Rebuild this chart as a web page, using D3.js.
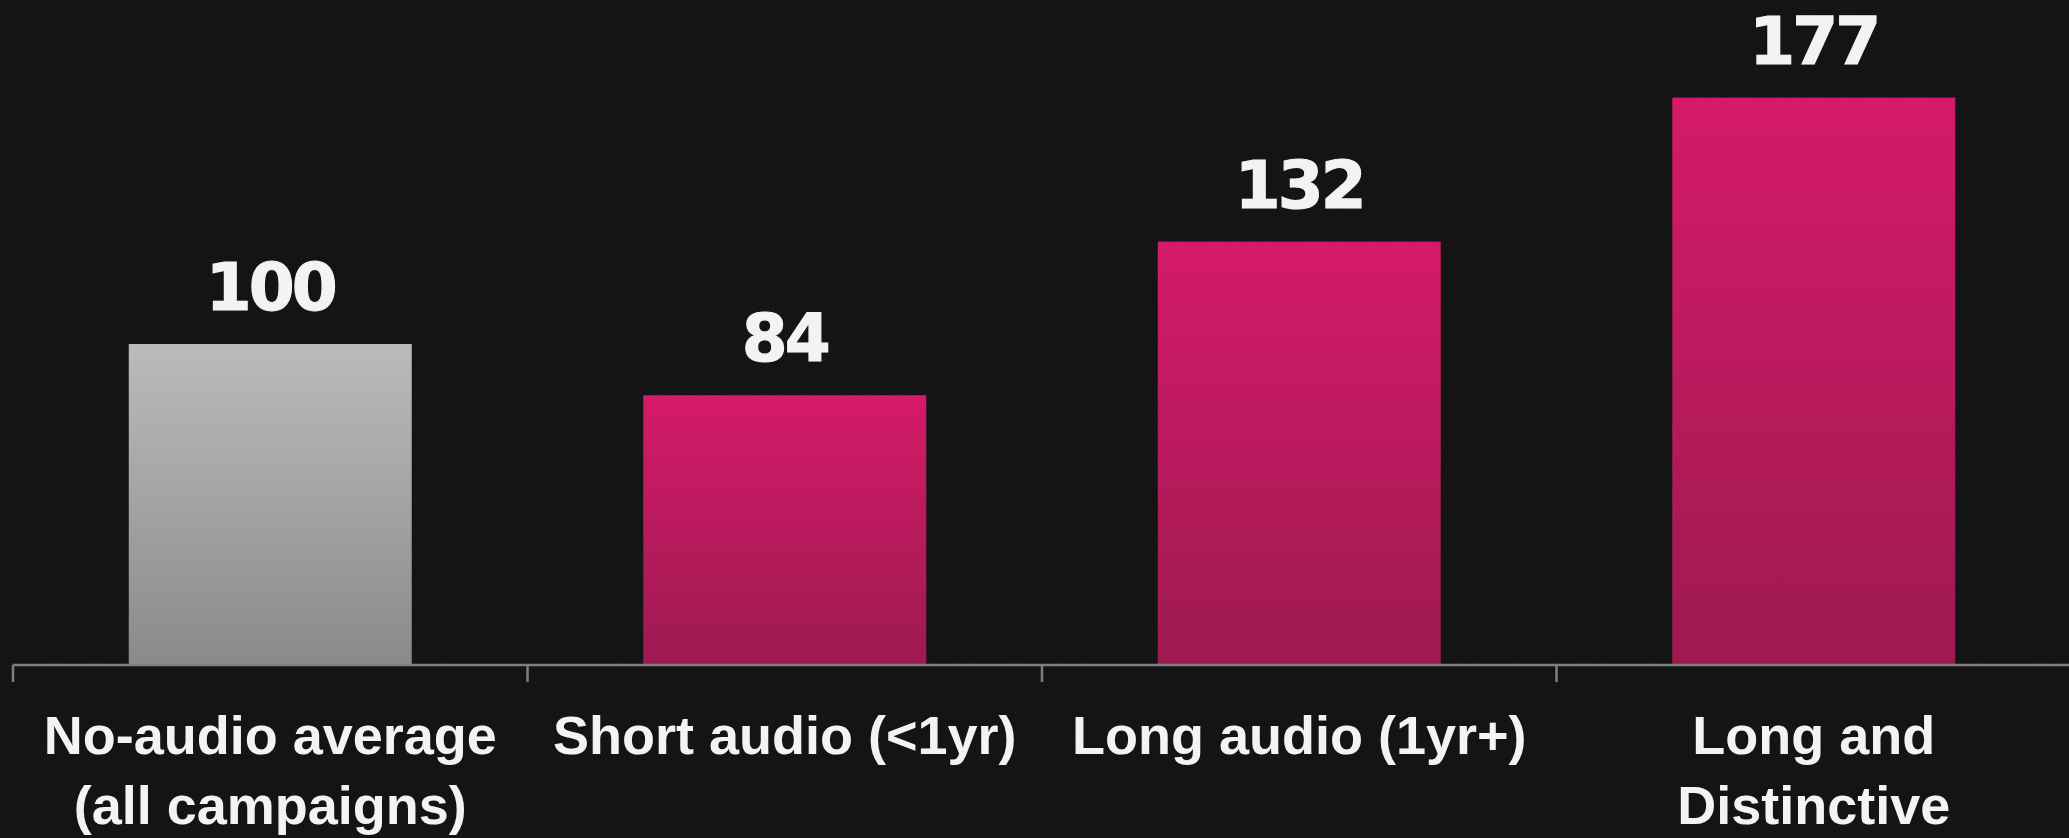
<!DOCTYPE html>
<html>
<head>
<meta charset="utf-8">
<script src="https://cdn.jsdelivr.net/npm/d3@7"></script>
<style>
  html, body { margin: 0; padding: 0; background: #131313; overflow: hidden; }
  svg { display: block; }
</style>
</head>
<body>
<svg id="chart" width="2069" height="838"></svg>
<script>
// Campaign groups and their indexed effectiveness (no-audio average = 100)
const categories = [
  "No-audio average\n(all campaigns)",
  "Short audio (<1yr)",
  "Long audio (1yr+)",
  "Long and\nDistinctive"
];
const values = [100, 84, 132, 177];
const baselineGroup = [true, false, false, false];

const W = 2069, H = 838;
const svg = d3.select("#chart");

const defs = svg.append("defs");

// Vertical fades for the bars
const pink = defs.append("linearGradient").attr("id", "pinkFade")
  .attr("x1", 0).attr("y1", 0).attr("x2", 0).attr("y2", 1);
pink.append("stop").attr("offset", "0%").attr("stop-color", "#d51a69");
pink.append("stop").attr("offset", "100%").attr("stop-color", "#9d1a51");

const grey = defs.append("linearGradient").attr("id", "greyFade")
  .attr("x1", 0).attr("y1", 0).attr("x2", 0).attr("y2", 1);
grey.append("stop").attr("offset", "0%").attr("stop-color", "#b9bbbd");
grey.append("stop").attr("offset", "100%").attr("stop-color", "#8a8a8c");

// Fine film grain over the dark background
const grain = defs.append("filter").attr("id", "grain")
  .attr("x", 0).attr("y", 0).attr("width", "100%").attr("height", "100%");
grain.append("feTurbulence").attr("type", "fractalNoise")
  .attr("baseFrequency", 0.9).attr("numOctaves", 2).attr("seed", 3).attr("result", "n");
grain.append("feColorMatrix").attr("type", "matrix")
  .attr("values", "0 0 0 0 1  0 0 0 0 1  0 0 0 0 1  0 0 0 0.05 0");

svg.append("rect").attr("width", W).attr("height", H).attr("fill", "#0e0e0e");
svg.append("rect").attr("width", W).attr("height", H).attr("filter", "url(#grain)");

// Scales
const x = d3.scaleBand()
  .domain(categories)
  .range([13, 2071])
  .paddingInner(0.45)
  .paddingOuter(0.225);

const y = d3.scaleLinear()
  .domain([0, 100])
  .range([664, 344]);

const data = categories.map((c, i) => ({ cat: c, value: values[i], base: baselineGroup[i] }));

// Bars
svg.append("g").selectAll("rect")
  .data(data)
  .join("rect")
  .attr("x", d => x(d.cat))
  .attr("y", d => y(d.value))
  .attr("width", x.bandwidth())
  .attr("height", d => y(0) - y(d.value))
  .attr("fill", d => d.base ? "url(#greyFade)" : "url(#pinkFade)");

// Baseline axis with ticks at the left edge of each category slot
const gap = (x.step() - x.bandwidth()) / 2;
const axis = svg.append("g").attr("stroke", "#7f7f7f").attr("stroke-width", 2.5);
axis.append("line")
  .attr("x1", x(categories[0]) - gap).attr("x2", W)
  .attr("y1", y(0) + 1).attr("y2", y(0) + 1);
axis.selectAll("line.tick")
  .data(categories)
  .join("line")
  .attr("class", "tick")
  .attr("x1", d => x(d) - gap).attr("x2", d => x(d) - gap)
  .attr("y1", y(0) + 1).attr("y2", y(0) + 18);

// Value labels above bars
svg.append("g").selectAll("text")
  .data(data)
  .join("text")
  .attr("x", d => x(d.cat) + x.bandwidth() / 2)
  .attr("y", d => y(d.value) - 34)
  .attr("text-anchor", "middle")
  .attr("fill", "#f3f4f1")
  .attr("stroke", "#f3f4f1")
  .attr("stroke-width", 1.2)
  .attr("font-family", "'DejaVu Sans', sans-serif")
  .attr("font-weight", "bold")
  .attr("font-size", 66)
  .attr("letter-spacing", -3)
  .text(d => d.value);

// Category labels under the axis
const labels = svg.append("g").selectAll("text")
  .data(data)
  .join("text")
  .attr("x", d => x(d.cat) + x.bandwidth() / 2)
  .attr("y", 754)
  .attr("text-anchor", "middle")
  .attr("fill", "#f3f4f1")
  .attr("font-family", "'Liberation Sans', Arial, sans-serif")
  .attr("font-weight", "bold")
  .attr("font-size", 54);

labels.selectAll("tspan")
  .data(d => d.cat.split("\n").map((t, i) => ({ t, i, cx: x(d.cat) + x.bandwidth() / 2 })))
  .join("tspan")
  .attr("x", d => d.cx)
  .attr("dy", d => d.i === 0 ? 0 : 70)
  .text(d => d.t);
</script>
</body>
</html>
